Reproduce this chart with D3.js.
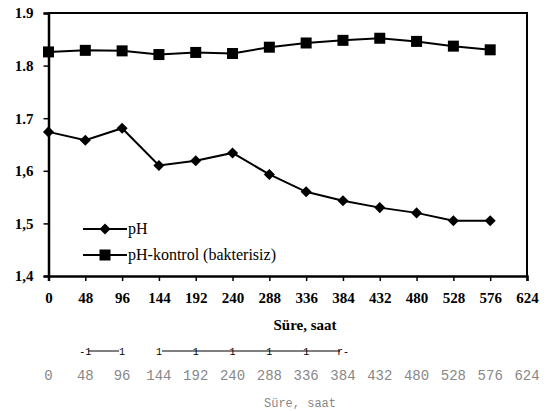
<!DOCTYPE html>
<html>
<head>
<meta charset="utf-8">
<script src="https://cdn.jsdelivr.net/npm/d3@7"></script>
<style>
  body { margin: 0; background: #fff; }
  svg { display: block; }
</style>
</head>
<body>
<div id="chart"></div>
<script>
(function () {
  "use strict";

  /***** Données *****/
  var hours = [0, 48, 96, 144, 192, 240, 288, 336, 384, 432, 480, 528, 576];
  var ph = [1.674, 1.658, 1.681, 1.610, 1.619, 1.634, 1.593, 1.560, 1.543, 1.530, 1.520, 1.505, 1.505];
  var phKontrol = [1.826, 1.829, 1.828, 1.821, 1.825, 1.823, 1.835, 1.843, 1.848, 1.852, 1.846, 1.837, 1.830];
  var xTicks = [0, 48, 96, 144, 192, 240, 288, 336, 384, 432, 480, 528, 576, 624];
  var yTicks = [1.4, 1.5, 1.6, 1.7, 1.8, 1.9];
  var yTickLabels = ["1,4", "1,5", "1,6", "1.7", "1.8", "1.9"];
  var seriesNames = ["pH", "pH-kontrol (bakterisiz)"];
  var axisTitle = "Süre, saat";
  // marques parasites du scan (OCR) sous le graphique
  var ocrMarks = [48, 96, 144, 192, 240, 288, 336, 384];

  /***** Configuration *****/
  var width = 558, height = 411;
  var margin = {top: 13, right: 31, bottom: 135, left: 48.5};
  var plotW = width - margin.left - margin.right,
      plotH = height - margin.top - margin.bottom;

  var x = d3.scaleLinear().domain([0, 624]).range([margin.left, margin.left + plotW]);
  var y = d3.scaleLinear().domain([1.4, 1.9]).range([margin.top + plotH, margin.top]);

  var svg = d3.select("#chart").append("svg")
    .attr("width", width)
    .attr("height", height);

  var serif = "'Liberation Serif', 'Times New Roman', serif";

  // cadre haut et droit
  svg.append("path")
    .attr("d", "M" + x(0) + "," + y(1.9) + "H" + x(624) + "V" + y(1.4))
    .attr("fill", "none")
    .attr("stroke", "#000")
    .attr("stroke-width", 2);

  // axe X
  var xAxis = svg.append("g")
    .attr("transform", "translate(0," + y(1.4) + ")")
    .call(d3.axisBottom(x).tickValues(xTicks).tickSize(5).tickPadding(11).tickFormat(d3.format("d")));
  xAxis.select(".domain").attr("stroke-width", 2.5);
  xAxis.selectAll(".tick line").attr("stroke-width", 1.5);
  xAxis.selectAll("text")
    .attr("font-family", serif)
    .attr("font-size", 15)
    .attr("font-weight", "bold")
    .attr("fill", "#000");

  // axe Y
  var yAxis = svg.append("g")
    .attr("transform", "translate(" + x(0) + ",0)")
    .call(d3.axisLeft(y).tickValues(yTicks).tickSize(5).tickPadding(10)
      .tickFormat(function (d, i) { return yTickLabels[i]; }));
  yAxis.select(".domain").attr("stroke-width", 2.5);
  yAxis.selectAll(".tick line").attr("stroke-width", 1.5);
  yAxis.selectAll("text")
    .attr("font-family", serif)
    .attr("font-size", 15)
    .attr("font-weight", "bold")
    .attr("fill", "#000");

  // titre de l'axe X
  svg.append("text")
    .attr("x", 305)
    .attr("y", 330)
    .attr("text-anchor", "middle")
    .attr("font-family", serif)
    .attr("font-size", 15)
    .attr("font-weight", "bold")
    .text(axisTitle);

  /***** Séries *****/
  var line = d3.line()
    .x(function (d) { return x(d[0]); })
    .y(function (d) { return y(d[1]); });

  var phData = hours.map(function (h, i) { return [h, ph[i]]; });
  var kData = hours.map(function (h, i) { return [h, phKontrol[i]]; });

  var diamond = d3.symbol().type(d3.symbolDiamond2).size(78);

  [kData, phData].forEach(function (data) {
    svg.append("path")
      .datum(data)
      .attr("d", line)
      .attr("fill", "none")
      .attr("stroke", "#000")
      .attr("stroke-width", 2);
  });

  svg.selectAll(".sq").data(kData).enter().append("rect")
    .attr("x", function (d) { return x(d[0]) - 5.5; })
    .attr("y", function (d) { return y(d[1]) - 5.5; })
    .attr("width", 11)
    .attr("height", 11)
    .attr("fill", "#000");

  svg.selectAll(".dm").data(phData).enter().append("path")
    .attr("transform", function (d) { return "translate(" + x(d[0]) + "," + y(d[1]) + ")"; })
    .attr("d", diamond)
    .attr("fill", "#000");

  /***** Légende *****/
  var legend = svg.append("g").attr("transform", "translate(83,229)");
  seriesNames.forEach(function (name, i) {
    var g = legend.append("g").attr("transform", "translate(0," + (i * 26) + ")");
    g.append("line").attr("x1", 0).attr("x2", 44).attr("y1", 0).attr("y2", 0)
      .attr("stroke", "#000").attr("stroke-width", 2);
    if (i === 0) {
      g.append("path").attr("transform", "translate(22,0)").attr("d", diamond).attr("fill", "#000");
    } else {
      g.append("rect").attr("x", 16.5).attr("y", -5.5).attr("width", 11).attr("height", 11).attr("fill", "#000");
    }
    g.append("text")
      .attr("x", 45)
      .attr("y", 5)
      .attr("font-family", serif)
      .attr("font-size", 16)
      .text(name);
  });

  /***** Couche texte du scan *****/
  var mono = "'Liberation Mono', 'Courier New', monospace";
  var ocr = svg.append("g");
  ocr.append("line")
    .attr("x1", x(48) + 3).attr("x2", x(96) - 3)
    .attr("y1", 351).attr("y2", 351)
    .attr("stroke", "#000").attr("stroke-width", 1);
  ocr.append("line")
    .attr("x1", x(144) + 3).attr("x2", x(384) - 3)
    .attr("y1", 351).attr("y2", 351)
    .attr("stroke", "#000").attr("stroke-width", 1);
  ocr.selectAll("text").data(ocrMarks).enter().append("text")
    .attr("x", function (d) { return x(d); })
    .attr("y", 355)
    .attr("text-anchor", "middle")
    .attr("font-family", mono)
    .attr("font-size", 10)
    .attr("fill", "#000")
    .text(function (d, i) { return i === 0 ? "-1" : (i === ocrMarks.length - 1 ? "r-" : "1"); });

  svg.append("g").selectAll("text").data(xTicks).enter().append("text")
    .attr("x", function (d) { return x(d); })
    .attr("y", 380)
    .attr("text-anchor", "middle")
    .attr("font-family", mono)
    .attr("font-size", 14)
    .attr("fill", "#888")
    .text(function (d) { return d; });

  svg.append("text")
    .attr("x", 300)
    .attr("y", 407)
    .attr("text-anchor", "middle")
    .attr("font-family", mono)
    .attr("font-size", 12)
    .attr("fill", "#888")
    .text(axisTitle);
})();
</script>
</body>
</html>
